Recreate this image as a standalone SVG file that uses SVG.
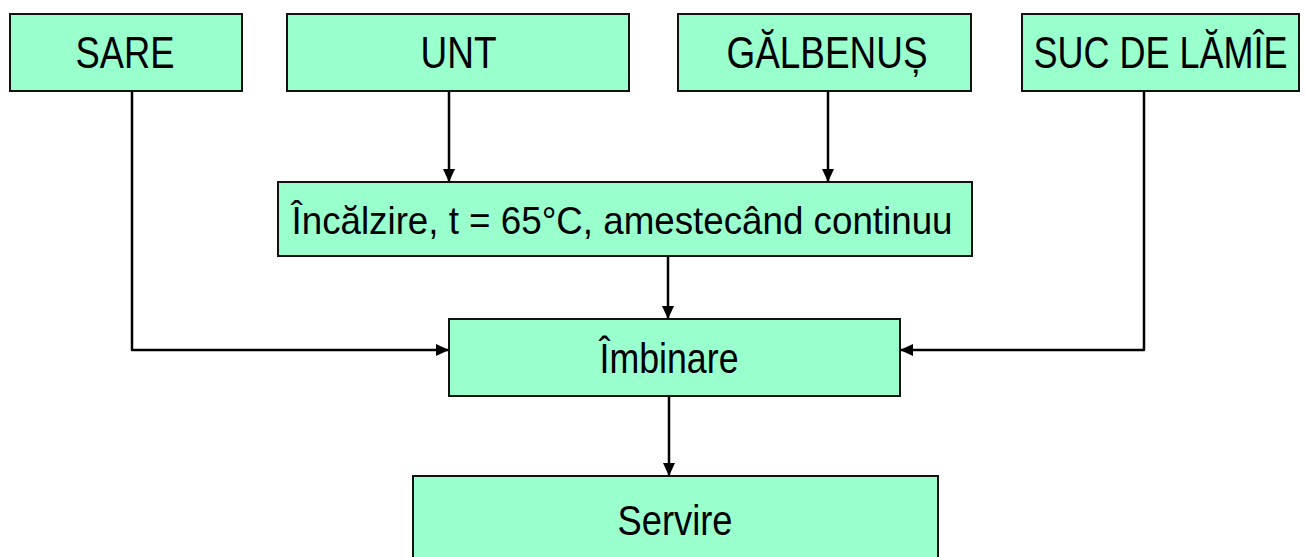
<svg xmlns="http://www.w3.org/2000/svg" width="1306" height="557" viewBox="0 0 1306 557">
<defs>
<style>
.box{fill:#99ffcc;stroke:#111;stroke-width:2}
.lbl{font-family:"Liberation Sans",Arial,sans-serif;fill:#000;text-anchor:middle}
.con{fill:none;stroke:#000;stroke-width:2.5;stroke-linejoin:round}
</style>
<marker id="arr" markerUnits="userSpaceOnUse" markerWidth="13" markerHeight="12" viewBox="0 0 13 12" refX="13" refY="6" orient="auto">
<path d="M0,0 L13,6 L0,12 Z" fill="#000"/>
</marker>
</defs>
<rect width="1306" height="557" fill="#fff"/>
<g id="connectors">
<path class="con" d="M132,91 V350 H449" marker-end="url(#arr)"/>
<path class="con" d="M449,91 V182" marker-end="url(#arr)"/>
<path class="con" d="M828,91 V182" marker-end="url(#arr)"/>
<path class="con" d="M1144,91 V350 H900" marker-end="url(#arr)"/>
<path class="con" d="M668,256 V319" marker-end="url(#arr)"/>
<path class="con" d="M669,396 V476" marker-end="url(#arr)"/>
</g>
<g id="sare"><rect class="box" x="10" y="14" width="232" height="77"/><text class="lbl" x="125" y="68" font-size="44" textLength="99" lengthAdjust="spacingAndGlyphs">SARE</text></g>
<g id="unt"><rect class="box" x="287" y="14" width="342" height="77"/><text class="lbl" x="458.5" y="68" font-size="44" textLength="76" lengthAdjust="spacingAndGlyphs">UNT</text></g>
<g id="galbenus"><rect class="box" x="678" y="14" width="293" height="77"/><text class="lbl" x="827" y="68" font-size="44" textLength="201" lengthAdjust="spacingAndGlyphs">GĂLBENUȘ</text></g>
<g id="suc"><rect class="box" x="1022" y="14" width="277" height="77"/><text class="lbl" x="1160.5" y="68" font-size="44" textLength="254" lengthAdjust="spacingAndGlyphs">SUC DE LĂMÎE</text></g>
<g id="incalzire"><rect class="box" x="278" y="182" width="694" height="74"/><text class="lbl" x="622" y="234" font-size="39" textLength="661" lengthAdjust="spacingAndGlyphs">Încălzire, t = 65°C, amestecând continuu</text></g>
<g id="imbinare"><rect class="box" x="449" y="319" width="451" height="77"/><text class="lbl" x="669" y="373" font-size="42" textLength="139" lengthAdjust="spacingAndGlyphs">Îmbinare</text></g>
<g id="servire"><rect class="box" x="413" y="476" width="525" height="95"/><text class="lbl" x="675" y="535" font-size="42" textLength="115" lengthAdjust="spacingAndGlyphs">Servire</text></g>
</svg>
